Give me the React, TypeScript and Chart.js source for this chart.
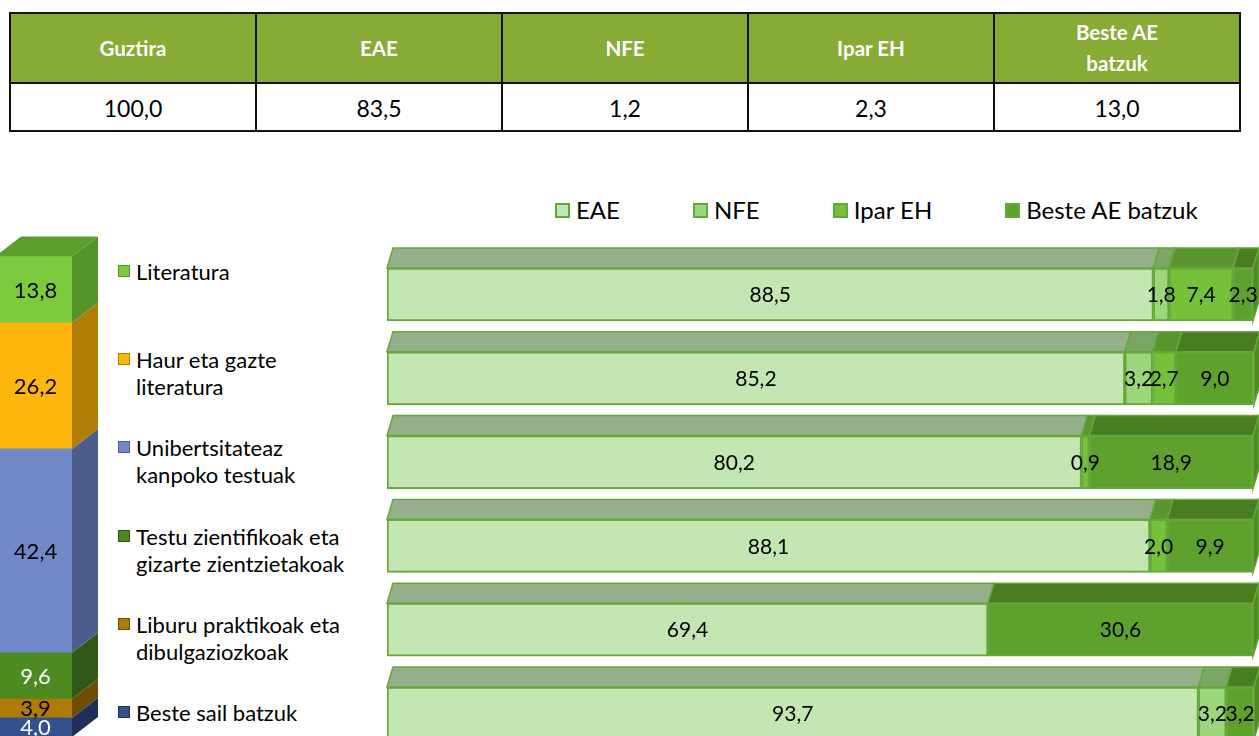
import React, { useEffect, useRef } from "react";
import { Chart, registerables } from "chart.js";

Chart.register(...registerables);

// ---------- data ----------
const tableHeaders = ["Guztira", "EAE", "NFE", "Ipar EH", "Beste AE\nbatzuk"];
const tableValues = [100.0, 83.5, 1.2, 2.3, 13.0];

const categories = [
  "Literatura",
  "Haur eta gazte literatura",
  "Unibertsitateaz kanpoko testuak",
  "Testu zientifikoak eta gizarte zientzietakoak",
  "Liburu praktikoak eta dibulgaziozkoak",
  "Beste sail batzuk",
];
const categoryLines = [
  ["Literatura"],
  ["Haur eta gazte", "literatura"],
  ["Unibertsitateaz", "kanpoko testuak"],
  ["Testu zientifikoak eta", "gizarte zientzietakoak"],
  ["Liburu praktikoak eta", "dibulgaziozkoak"],
  ["Beste sail batzuk"],
];
const categoryShares = [13.8, 26.2, 42.4, 9.6, 3.9, 4.0];

const seriesNames = ["EAE", "NFE", "Ipar EH", "Beste AE batzuk"];
const eaeValues = [88.5, 85.2, 80.2, 88.1, 69.4, 93.7];
const nfeValues = [1.8, 3.2, 0, 0, 0, 3.2];
const iparValues = [7.4, 2.7, 0.9, 2.0, 0, 0];
const besteValues = [2.3, 9.0, 18.9, 9.9, 30.6, 3.2];

// ---------- styles ----------
const FONT = "Lato, 'Open Sans', sans-serif";
const catFront = ["#7BCB3C", "#FFB70D", "#7189C9", "#4E8A22", "#AE7B05", "#33508F"];
const catSide = ["#55932B", "#B07E06", "#4C5C8C", "#305818", "#6D4C03", "#1F3159"];
const catTop = "#5D9E2F";
const catLabelColor = ["#000", "#000", "#000", "#fff", "#000", "#fff"];

const serFront = ["#C4E6B3", "#9CD77D", "#76C13A", "#5EA22D"];
const serTop = ["#94AF89", "#7BA666", "#5C9530", "#4A7D21"];
const serBorder = "#65A83A";
const serSide = "#4F8A25";

const fmt = (v: number) => v.toFixed(1).replace(".", ",");

const DXR = 6, DYR = 20;
const DXL = 26, DYL = 20;

const col3D = {
  id: "col3D",
  afterDatasetsDraw(chart: any) {
    const ctx = chart.ctx;
    const n = chart.data.datasets.length;
    let topEl: any = null;
    ctx.save();
    for (let d = 0; d < n; d++) {
      const ds = chart.data.datasets[d];
      const el = chart.getDatasetMeta(d).data[0];
      const p = el.getProps(["x", "y", "base", "width"], true);
      const x1 = p.x + p.width / 2;
      const yt = Math.min(p.y, p.base), yb = Math.max(p.y, p.base);
      ctx.beginPath();
      ctx.moveTo(x1, yt);
      ctx.lineTo(x1 + DXL, yt - DYL);
      ctx.lineTo(x1 + DXL, yb - DYL);
      ctx.lineTo(x1, yb);
      ctx.closePath();
      ctx.fillStyle = ds.sideColor;
      ctx.fill();
      if (!topEl || yt < topEl.yt) topEl = { ...p, yt, x1 };
    }
    if (topEl) {
      const x0 = topEl.x - topEl.width / 2;
      ctx.beginPath();
      ctx.moveTo(x0, topEl.yt);
      ctx.lineTo(topEl.x1, topEl.yt);
      ctx.lineTo(topEl.x1 + DXL, topEl.yt - DYL);
      ctx.lineTo(x0 + DXL, topEl.yt - DYL);
      ctx.closePath();
      ctx.fillStyle = catTop;
      ctx.fill();
    }
    ctx.font = `22px ${FONT}`;
    ctx.textAlign = "center";
    ctx.textBaseline = "middle";
    for (let d = 0; d < n; d++) {
      const ds = chart.data.datasets[d];
      const el = chart.getDatasetMeta(d).data[0];
      const p = el.getProps(["x", "y", "base"], true);
      ctx.fillStyle = ds.labelColor;
      ctx.fillText(fmt(ds.data[0]), p.x + 2, (p.y + p.base) / 2 + 1);
    }
    ctx.restore();
  },
};

const bar3D = {
  id: "bar3D",
  beforeDatasetsDraw(chart: any) {
    const ctx = chart.ctx;
    const rows = chart.data.labels.length;
    ctx.save();
    ctx.lineWidth = 1.5;
    ctx.strokeStyle = serBorder;
    for (let i = 0; i < rows; i++) {
      let last: any = null;
      chart.data.datasets.forEach((ds: any, d: number) => {
        if (!ds.data[i]) return;
        const el = chart.getDatasetMeta(d).data[i];
        const p = el.getProps(["x", "y", "base", "height"], true);
        const x0 = Math.min(p.x, p.base), x1 = Math.max(p.x, p.base);
        const top = p.y - p.height / 2;
        ctx.beginPath();
        ctx.moveTo(x0, top);
        ctx.lineTo(x1, top);
        ctx.lineTo(x1 + DXR, top - DYR);
        ctx.lineTo(x0 + DXR, top - DYR);
        ctx.closePath();
        ctx.fillStyle = ds.topColor;
        ctx.fill();
        ctx.stroke();
        last = { x1, top, bottom: top + p.height };
      });
      if (last) {
        ctx.beginPath();
        ctx.moveTo(last.x1, last.top);
        ctx.lineTo(last.x1 + DXR, last.top - DYR);
        ctx.lineTo(last.x1 + DXR, last.bottom - DYR);
        ctx.lineTo(last.x1, last.bottom);
        ctx.closePath();
        ctx.fillStyle = serSide;
        ctx.fill();
        ctx.stroke();
      }
    }
    ctx.restore();
  },
  afterDatasetsDraw(chart: any) {
    const ctx = chart.ctx;
    ctx.save();
    ctx.font = `21px ${FONT}`;
    ctx.fillStyle = "#000";
    ctx.textAlign = "center";
    ctx.textBaseline = "middle";
    const rows = chart.data.labels.length;
    for (let i = 0; i < rows; i++) {
      let prevRight = -Infinity;
      chart.data.datasets.forEach((ds: any, d: number) => {
        const v = ds.data[i];
        if (!v) return;
        const el = chart.getDatasetMeta(d).data[i];
        const p = el.getProps(["x", "y", "base"], true);
        const txt = fmt(v);
        const w = ctx.measureText(txt).width;
        let cx = (p.x + p.base) / 2;
        let cy = p.y + 1;
        // avoid overlapping the previous label: lift it and push right
        if (cx - w / 2 < prevRight - 4) {
          cx = prevRight + w / 2;
          cy -= 12;
        }
        ctx.fillText(txt, cx, cy);
        prevRight = cx + w / 2;
      });
    }
    ctx.restore();
  },
};

export default function App() {
  const leftRef = useRef<HTMLCanvasElement>(null);
  const rightRef = useRef<HTMLCanvasElement>(null);

  useEffect(() => {
    const order = categories.map((_, i) => i).reverse();
    const left = new Chart(leftRef.current as HTMLCanvasElement, {
      type: "bar",
      data: {
        labels: ["Guztira"],
        datasets: order.map((i) => ({
          label: categories[i],
          data: [categoryShares[i]],
          backgroundColor: catFront[i],
          borderWidth: 0,
          sideColor: catSide[i],
          labelColor: catLabelColor[i],
          barPercentage: 1,
          categoryPercentage: 1,
        })) as any,
      },
      options: {
        animation: false,
        responsive: true,
        maintainAspectRatio: false,
        layout: { padding: { left: 5, right: 38, top: 36, bottom: 23 } },
        plugins: { legend: { display: false }, tooltip: { enabled: false } },
        scales: {
          x: { stacked: true, display: false },
          y: { stacked: true, display: false, min: 0, max: 100 },
        },
      },
      plugins: [col3D],
    });

    const seriesData = [eaeValues, nfeValues, iparValues, besteValues];
    const right = new Chart(rightRef.current as HTMLCanvasElement, {
      type: "bar",
      data: {
        labels: categories,
        datasets: seriesNames.map((name, d) => ({
          label: name,
          data: seriesData[d],
          backgroundColor: serFront[d],
          borderColor: serBorder,
          borderWidth: 2,
          borderSkipped: false,
          topColor: serTop[d],
          barThickness: 53,
        })) as any,
      },
      options: {
        indexAxis: "y",
        animation: false,
        responsive: true,
        maintainAspectRatio: false,
        layout: { padding: { left: 10, right: 13, top: 20.6, bottom: 6.6 } },
        plugins: { legend: { display: false }, tooltip: { enabled: false } },
        scales: {
          x: { stacked: true, display: false, min: 0, max: 100 },
          y: { stacked: true, display: false },
        },
      },
      plugins: [bar3D],
    });
    return () => {
      left.destroy();
      right.destroy();
    };
  }, []);

  const cellBorder = "2px solid #111";

  return (
    <div
      style={{
        position: "fixed",
        left: 0,
        top: 0,
        width: 1259,
        height: 736,
        overflow: "hidden",
        background: "#fff",
        fontFamily: FONT,
        color: "#000",
      }}
    >
      <table
        style={{
          position: "absolute",
          left: 9,
          top: 12,
          width: 1232,
          height: 120,
          borderCollapse: "collapse",
          tableLayout: "fixed",
        }}
      >
        <tbody>
          <tr style={{ height: 70 }}>
            {tableHeaders.map((h, i) => (
              <td
                key={i}
                style={{
                  border: cellBorder,
                  background: "#86AC35",
                  color: "#fff",
                  fontWeight: 700,
                  fontSize: 20.5,
                  textAlign: "center",
                  verticalAlign: "middle",
                  whiteSpace: "pre-line",
                  lineHeight: "31px",
                  padding: 0,
                }}
              >
                {h}
              </td>
            ))}
          </tr>
          <tr style={{ height: 48 }}>
            {tableValues.map((v, i) => (
              <td
                key={i}
                style={{
                  border: cellBorder,
                  fontSize: 23,
                  textAlign: "center",
                  verticalAlign: "middle",
                  padding: "2px 0 0 0",
                }}
              >
                {fmt(v)}
              </td>
            ))}
          </tr>
        </tbody>
      </table>

      <div style={{ position: "absolute", left: -10, top: 220, width: 120, height: 540 }}>
        <canvas ref={leftRef} />
      </div>

      <div style={{ position: "absolute", left: 118, top: 257.5, width: 260 }}>
        {categoryLines.map((lines, i) => (
          <div key={i} style={{ height: 88.4, display: "flex", alignItems: "flex-start" }}>
            <div
              style={{
                width: 10,
                height: 10,
                marginTop: 7,
                marginRight: 6,
                background: catFront[i],
                border: `1.5px solid ${catSide[i]}`,
                flex: "none",
              }}
            />
            <div style={{ fontSize: 22, lineHeight: "27px", whiteSpace: "nowrap" }}>
              {lines.map((l, k) => (
                <div key={k}>{l}</div>
              ))}
            </div>
          </div>
        ))}
      </div>

      <div
        style={{
          position: "absolute",
          left: 555,
          top: 197,
          display: "flex",
          gap: 73,
          fontSize: 24,
          lineHeight: "26px",
          whiteSpace: "nowrap",
        }}
      >
        {seriesNames.map((s, d) => (
          <div key={d} style={{ display: "flex", alignItems: "center" }}>
            <div
              style={{
                width: 11,
                height: 11,
                marginRight: 6,
                background: serFront[d],
                border: `2px solid ${serBorder}`,
              }}
            />
            <span>{s}</span>
          </div>
        ))}
      </div>

      <div style={{ position: "absolute", left: 377, top: 232, width: 889, height: 530 }}>
        <canvas ref={rightRef} />
      </div>
    </div>
  );
}
